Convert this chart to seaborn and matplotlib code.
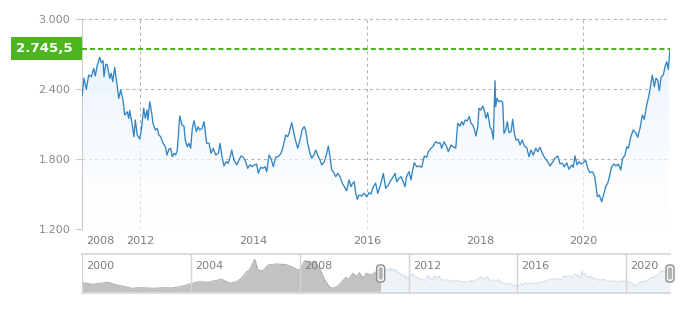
import numpy as np
import pandas as pd
import matplotlib
matplotlib.use("Agg")
import matplotlib.pyplot as plt
import seaborn as sns
from matplotlib.patches import FancyBboxPatch, Rectangle

# ---------------- data (fractional years, price) ----------------
dates_2011_2013 = [
    2010.978, 2011.013, 2011.054, 2011.096, 2011.142, 2011.184, 2011.212, 2011.248, 2011.290, 2011.318,
    2011.348, 2011.366, 2011.396, 2011.424, 2011.466, 2011.494, 2011.519, 2011.554, 2011.600, 2011.625,
    2011.660, 2011.700, 2011.730, 2011.776, 2011.801, 2011.819, 2011.859, 2011.894, 2011.917, 2011.952,
    2011.995, 2012.023, 2012.065, 2012.093, 2012.123, 2012.141, 2012.171, 2012.199, 2012.229, 2012.270,
    2012.305, 2012.330, 2012.365, 2012.405, 2012.446, 2012.476, 2012.506, 2012.541, 2012.569, 2012.599,
    2012.629, 2012.657, 2012.700, 2012.740, 2012.775, 2012.798, 2012.833, 2012.863, 2012.893, 2012.922,
    2012.952, 2012.992, 2013.022, 2013.052, 2013.093]
prices_2011_2013 = [
    2340, 2492, 2397, 2520, 2505, 2577, 2511, 2606, 2672, 2625,
    2643, 2505, 2614, 2606, 2492, 2535, 2463, 2586, 2420, 2320,
    2391, 2306, 2177, 2205, 2149, 2214, 2106, 1991, 2134, 2006,
    1971, 2049, 2235, 2149, 2220, 2134, 2291, 2220, 2106, 2049,
    2063, 2006, 1991, 1935, 1905, 1834, 1883, 1892, 1820, 1849,
    1834, 1877, 2169, 2091, 2083, 1963, 1905, 1935, 1892, 2063,
    2128, 2034, 2077, 2049, 2063]

dates_2013_2015 = [
    2013.128, 2013.175, 2013.216, 2013.251, 2013.292, 2013.334, 2013.380, 2013.410, 2013.440, 2013.480,
    2013.515, 2013.556, 2013.598, 2013.616, 2013.656, 2013.704, 2013.744, 2013.780, 2013.820, 2013.863,
    2013.898, 2013.938, 2013.979, 2014.014, 2014.056, 2014.085, 2014.127, 2014.162, 2014.203, 2014.233,
    2014.273, 2014.308, 2014.349, 2014.391, 2014.437, 2014.485, 2014.525, 2014.567, 2014.603, 2014.626,
    2014.673, 2014.701, 2014.731, 2014.779, 2014.819, 2014.860, 2014.895, 2014.920, 2014.955, 2014.996,
    2015.026, 2015.066, 2015.096, 2015.131, 2015.172]
prices_2013_2015 = [
    2120, 1935, 1935, 1849, 1892, 1834, 1849, 1935, 1834, 1740,
    1777, 1763, 1834, 1877, 1791, 1749, 1791, 1826, 1815, 1777,
    1720, 1749, 1734, 1749, 1757, 1677, 1729, 1720, 1734, 1691,
    1834, 1806, 1734, 1815, 1820, 1849, 1911, 2006, 1991, 2020,
    2111, 2049, 1977, 1892, 1963, 2055, 2077, 2043, 1935, 1849,
    1806, 1834, 1877, 1834, 1791]

dates_2015_2017 = [
    2015.202, 2015.248, 2015.290, 2015.318, 2015.348, 2015.378, 2015.406, 2015.449, 2015.484, 2015.524,
    2015.565, 2015.600, 2015.642, 2015.683, 2015.718, 2015.748, 2015.776, 2015.801, 2015.829, 2015.859,
    2015.907, 2015.947, 2015.995, 2016.037, 2016.074, 2016.117, 2016.161, 2016.198, 2016.241, 2016.302,
    2016.346, 2016.394, 2016.444, 2016.487, 2016.519, 2016.550, 2016.593, 2016.630, 2016.672, 2016.704,
    2016.735, 2016.778, 2016.815, 2016.839, 2016.876, 2016.920, 2016.963, 2017.013, 2017.061, 2017.106,
    2017.135, 2017.185, 2017.228, 2017.272, 2017.320]
prices_2015_2017 = [
    1749, 1777, 1849, 1911, 1820, 1706, 1691, 1648, 1677, 1648,
    1592, 1563, 1528, 1620, 1563, 1592, 1605, 1506, 1455, 1491,
    1483, 1506, 1477, 1511, 1500, 1563, 1592, 1506, 1563, 1677,
    1549, 1577, 1620, 1648, 1677, 1605, 1635, 1648, 1605, 1563,
    1654, 1691, 1620, 1691, 1768, 1734, 1740, 1729, 1826, 1815,
    1863, 1892, 1911, 1948, 1935]

dates_2017_2019 = [
    2017.352, 2017.383, 2017.426, 2017.476, 2017.505, 2017.556, 2017.598, 2017.643, 2017.680, 2017.722,
    2017.754, 2017.784, 2017.815, 2017.857, 2017.894, 2017.926, 2017.957, 2017.987, 2018.019, 2018.050,
    2018.074, 2018.106, 2018.143, 2018.172, 2018.204, 2018.235, 2018.259, 2018.278, 2018.309, 2018.339,
    2018.370, 2018.383, 2018.407, 2018.444, 2018.481, 2018.513, 2018.537, 2018.569, 2018.598, 2018.630,
    2018.667, 2018.698, 2018.728, 2018.759, 2018.802, 2018.833, 2018.876, 2018.913, 2018.957, 2019.000,
    2019.037, 2019.080, 2019.124, 2019.161, 2019.204, 2019.246, 2019.296, 2019.346, 2019.389, 2019.431,
    2019.481, 2019.531, 2019.574]
prices_2017_2019 = [
    1940, 1892, 1948, 1905, 1863, 1920, 1905, 1892, 2106, 2083,
    2120, 2091, 2134, 2128, 2163, 2106, 2091, 2055, 1997, 2077,
    2235, 2220, 2254, 2220, 2149, 2197, 2134, 2072, 2049, 1969,
    2471, 2248, 2320, 2291, 2300, 2283, 2020, 2049, 2120, 2025,
    2034, 2140, 2025, 1963, 1969, 1920, 1963, 1911, 1900, 1820,
    1877, 1834, 1892, 1863, 1900, 1849, 1806, 1777, 1740, 1768,
    1806, 1826, 1760]

dates_2019_2021 = [
    2019.617, 2019.654, 2019.698, 2019.741, 2019.791, 2019.820, 2019.852, 2019.889, 2019.926, 2019.963,
    2020.006, 2020.050, 2020.087, 2020.130, 2020.172, 2020.209, 2020.235, 2020.265, 2020.302, 2020.346,
    2020.389, 2020.420, 2020.457, 2020.487, 2020.531, 2020.574, 2020.611, 2020.654, 2020.698, 2020.735,
    2020.778, 2020.809, 2020.839, 2020.889, 2020.931, 2020.976, 2021.013, 2021.056, 2021.098, 2021.135,
    2021.180, 2021.222, 2021.259, 2021.283, 2021.320, 2021.352, 2021.383, 2021.413, 2021.444, 2021.487,
    2021.519, 2021.550, 2021.580, 2021.611]
prices_2019_2021 = [
    1763, 1734, 1768, 1712, 1749, 1729, 1826, 1749, 1777, 1757,
    1768, 1791, 1720, 1683, 1691, 1663, 1592, 1477, 1491, 1434,
    1506, 1563, 1592, 1643, 1734, 1757, 1740, 1757, 1706, 1806,
    1834, 1905, 1892, 1997, 2049, 2025, 1986, 2063, 2177, 2140,
    2263, 2349, 2449, 2520, 2420, 2492, 2477, 2385, 2500, 2520,
    2591, 2634, 2569, 2745.5]

# long history shown only in the navigator
hist_dates = [
    2000.00, 2000.41, 2000.66, 2000.97, 2001.27, 2001.58, 2001.82, 2002.13, 2002.43, 2002.68,
    2002.98, 2003.29, 2003.60, 2003.84, 2004.03, 2004.33, 2004.63, 2004.88, 2005.13, 2005.43,
    2005.68, 2005.86, 2006.02, 2006.17, 2006.35, 2006.47, 2006.65, 2006.84, 2007.14, 2007.51,
    2007.70, 2007.88, 2008.00, 2008.18, 2008.37, 2008.55, 2008.73, 2008.92, 2009.10, 2009.22,
    2009.41, 2009.59, 2009.71, 2009.77, 2009.96, 2010.08, 2010.20, 2010.32, 2010.45, 2010.63,
    2010.81, 2010.94]
hist_prices = [
    1671, 1559, 1629, 1698, 1510, 1392, 1280, 1322, 1301, 1280,
    1322, 1301, 1392, 1510, 1629, 1740, 1698, 1810, 1907, 1629,
    1740, 1977, 2367, 2604, 3301, 2555, 2506, 2903, 2973, 2924,
    2785, 2604, 2555, 3203, 3064, 3161, 2673, 1859, 1350, 1280,
    1441, 1810, 2047, 1859, 2325, 2088, 2367, 1977, 2325, 2207,
    2437, 2437]

y_ticks = [1200, 1800, 2400, 3000]
y_tick_labels = ["1.200", "1.800", "2.400", "3.000"]
x_tick_pos = [2011.295, 2012, 2014, 2016, 2018.09, 2020]
x_tick_labels = ["2008", "2012", "2014", "2016", "2018", "2020"]
x_grid_years = [2012, 2016, 2020]
nav_years = [2000, 2004, 2008, 2012, 2016, 2020]

dates = dates_2011_2013 + dates_2013_2015 + dates_2015_2017 + dates_2017_2019 + dates_2019_2021
prices = prices_2011_2013 + prices_2013_2015 + prices_2015_2017 + prices_2017_2019 + prices_2019_2021
df = pd.DataFrame({"year": dates, "price": prices})
hx = hist_dates + [dates[0]]
hy = hist_prices + [prices[0]]
df_hist = pd.DataFrame({"year": hx, "price": hy})

last = prices[-1]
last_label = f"{last:,.1f}".replace(",", "X").replace(".", ",").replace("X", ".")

# ---------------- style ----------------
sns.set_theme(style="white")
plt.rcParams["font.family"] = ["DejaVu Sans"]

LINE = "#3385c4"
GREEN = "#4db51f"
GRID = "#b3b3b3"
TXT = "#888888"

W, H = 685, 328
fig = plt.figure(figsize=(W / 100, H / 100), dpi=100)
fig.patch.set_facecolor("white")


def fax(l, t, r, b):
    return fig.add_axes([l / W, 1 - b / H, (r - l) / W, (b - t) / H])


ax = fax(82, 19, 670, 229)
nav = fax(82, 254, 670, 293)

# ordinal-like axis: the years before 2016 are slightly wider
def fwd(x):
    x = np.asarray(x, dtype=float)
    return np.where(x <= 2016, (x - 2016) * 1.0509, x - 2016)


def inv(p):
    p = np.asarray(p, dtype=float)
    return np.where(p <= 0, p / 1.0509 + 2016, p + 2016)


ax.set_xscale("function", functions=(fwd, inv))

# ---------------- main chart ----------------
ymin, ymax = 1200, 3000
for yv in y_ticks:
    ax.axhline(yv, color=GRID, lw=0.75, ls=(0, (3, 3)), zorder=0)
for xv in x_grid_years:
    ax.axvline(xv, color=GRID, lw=0.75, ls=(0, (3, 3)), zorder=0)

coll = ax.fill_between(dates, prices, ymin, facecolor="none", edgecolor="none")
n = 256
g = np.linspace(0, 1, n)[:, None]
top = np.array([0.91, 0.955, 0.99])
bot = np.array([1.0, 1.0, 1.0])
rgba = np.zeros((n, 1, 4))
rgba[..., :3] = bot + (top - bot) * g[..., None]
rgba[..., 3] = 0.55 + 0.45 * g ** 1.5
im = ax.imshow(rgba, extent=[dates[0], dates[-1], ymin, max(prices)], origin="lower",
               aspect="auto", zorder=1, interpolation="bilinear")
im.set_clip_path(coll.get_paths()[0], transform=ax.transData)

sns.lineplot(data=df, x="year", y="price", color=LINE, lw=0.95, ax=ax,
             estimator=None, sort=False, zorder=3)
ax.axhline(last, color=GREEN, lw=1.5, ls=(0, (2.4, 1.45)), zorder=4)

ax.set_xlim(dates[0], dates[-1])
ax.set_ylim(ymin, ymax)
ax.set_yticks(y_ticks)
ax.set_yticklabels(y_tick_labels)
ax.set_xticks(x_tick_pos)
ax.set_xticklabels(x_tick_labels)
ax.minorticks_off()
ax.tick_params(axis="y", left=True, length=5, width=0.8, color="#cccccc",
               labelcolor=TXT, labelsize=8, pad=3.5)
ax.tick_params(axis="x", bottom=False, length=0, labelcolor="#7d7d7d", labelsize=8, pad=5)
ax.set_xlabel("")
ax.set_ylabel("")
for s in ["top", "right", "bottom"]:
    ax.spines[s].set_visible(False)
ax.spines["left"].set_color("#cccccc")
ax.spines["left"].set_linewidth(0.8)
ax.set_facecolor("none")

# ---------------- navigator ----------------
nlo, nhi = 953, 3669
nav.fill_between(hx, hy, nlo, color="#c2c2c2", lw=0, zorder=1)
sns.lineplot(data=df_hist, x="year", y="price", color="#b0b0b0", lw=0.8, ax=nav,
             estimator=None, sort=False, zorder=2)
nav.fill_between(dates, prices, nlo, color="#eef3f8", lw=0, zorder=1)
sns.lineplot(data=df, x="year", y="price", color="#d6e1ea", lw=0.8, ax=nav,
             estimator=None, sort=False, zorder=2)
for yr in nav_years:
    nav.axvline(yr, color="#d4d4d4", lw=1, zorder=3)
    nav.annotate(str(yr), xy=(yr, 0.69), xycoords=("data", "axes fraction"),
                 xytext=(3, 0), textcoords="offset points", ha="left", va="center",
                 fontsize=8, color="#7d7d7d", zorder=5)
nav.set_xlim(2000, dates[-1])
nav.set_ylim(nlo, nhi)
nav.set_xticks([])
nav.set_yticks([])
nav.set_xlabel("")
nav.set_ylabel("")
for s in ["left", "right"]:
    nav.spines[s].set_visible(False)
for s in ["top", "bottom"]:
    nav.spines[s].set_color("#dadada")
    nav.spines[s].set_linewidth(1.4)
nav.set_facecolor("none")

# ---------------- overlay (label box, handles) ----------------
ov = fig.add_axes([0, 0, 1, 1])
ov.set_xlim(0, W)
ov.set_ylim(0, H)
ov.axis("off")

yd = ax.transData.transform((dates[-1], last))[1]
ov.add_patch(Rectangle((11, yd - 11.5), 71, 23, fc=GREEN, ec="none"))
ov.text(44.5, yd, last_label, color="white", fontsize=9.6, fontweight="bold",
        ha="center", va="center")

ny = (nav.transAxes.transform((0, 0.5))[1])
for xv in (dates[0], dates[-1]):
    xd = nav.transData.transform((xv, nlo))[0]
    ov.add_patch(FancyBboxPatch((xd - 4, ny - 8.5), 8, 17,
                                boxstyle="round,pad=0,rounding_size=3",
                                fc="#f4f4f4", ec="#8c8c8c", lw=1.0))
    ov.add_patch(FancyBboxPatch((xd - 2, ny - 6), 4, 12,
                                boxstyle="round,pad=0,rounding_size=1.5",
                                fc="#b3b3b3", ec="none"))

fig.savefig("out.png", dpi=100, facecolor="white")
